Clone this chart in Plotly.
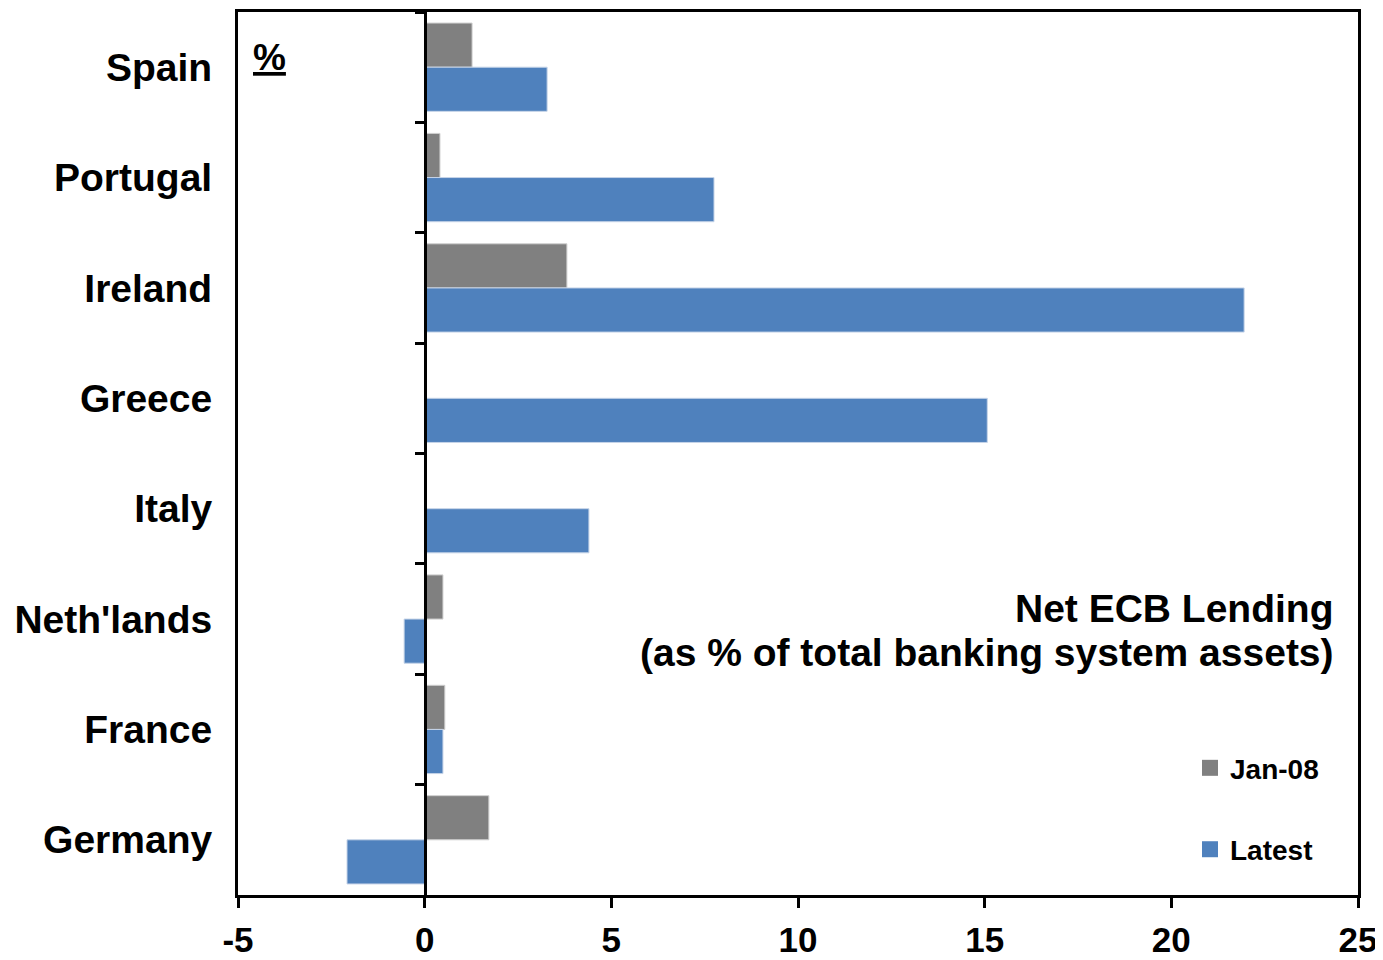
import plotly.graph_objects as go

countries = ["Spain", "Portugal", "Ireland", "Greece", "Italy", "Neth'lands", "France", "Germany"]
jan08 = [1.27, 0.41, 3.81, 0.0, 0.0, 0.49, 0.54, 1.72]
latest = [3.28, 7.75, 21.95, 15.07, 4.40, -0.55, 0.49, -2.08]
x_ticks = [-5, 0, 5, 10, 15, 20, 25]
series_names = ["Jan-08", "Latest"]

FONT = "Liberation Sans, Arial, sans-serif"
GRAY = "#808080"
BLUE = "#4F81BD"

fig = go.Figure()
fig.add_trace(go.Bar(y=countries, x=jan08, orientation="h", name=series_names[0],
                     marker=dict(color=GRAY, line=dict(color="#d0d0d0", width=1)),
                     showlegend=False))
fig.add_trace(go.Bar(y=countries, x=latest, orientation="h", name=series_names[1],
                     marker=dict(color=BLUE, line=dict(color="#c6d4e8", width=1)),
                     showlegend=False))
# invisible trace to carry the category ticks drawn on the zero line
fig.add_trace(go.Bar(y=countries, x=[0] * len(countries), orientation="h", yaxis="y2",
                     showlegend=False, hoverinfo="skip", marker=dict(color="rgba(0,0,0,0)")))
# legend entries with larger square swatches
for nm, col, grp in zip(series_names, [GRAY, BLUE], ["a", "b"]):
    fig.add_trace(go.Scatter(x=[None], y=[None], mode="markers", name=f"<b>{nm}</b>",
                             marker=dict(symbol="square", size=16, color=col),
                             legendgroup=grp, showlegend=True))

PLOT_H = 888
fig.update_layout(
    width=1375, height=952,
    margin=dict(l=230, r=25, t=1, b=952 - 1 - PLOT_H),
    paper_bgcolor="white", plot_bgcolor="white",
    barmode="group", bargap=0.2, bargroupgap=0,
    font=dict(family=FONT, color="black"),
    xaxis=dict(range=[-5, 25], tickvals=x_ticks, ticktext=[f"<b>{v}</b>" for v in x_ticks],
               tickfont=dict(size=35, family=FONT), showgrid=False, zeroline=False,
               showline=True, linecolor="black", linewidth=3, mirror=True,
               ticks="outside", ticklen=10, tickwidth=3, tickcolor="black",
               ticklabelstandoff=2),
    yaxis=dict(categoryorder="array", categoryarray=countries, autorange="reversed",
               tickvals=countries, ticktext=[f"<b>{c}</b>" for c in countries],
               tickfont=dict(size=39, family=FONT), showgrid=False, zeroline=False,
               showline=True, linecolor="black", linewidth=3, mirror=True,
               ticks="", ticklabelstandoff=15),
    yaxis2=dict(overlaying="y", anchor="free", position=1/6, side="left",
                categoryorder="array", categoryarray=countries, autorange="reversed",
                showticklabels=False, showgrid=False, zeroline=False,
                showline=True, linecolor="black", linewidth=3,
                ticks="outside", tickson="boundaries", ticklen=9, tickwidth=3, tickcolor="black"),
    legend=dict(x=0.85, xanchor="left", y=0.172, yanchor="top",
                font=dict(size=28, family=FONT, color="black"),
                tracegroupgap=42, bgcolor="rgba(0,0,0,0)", traceorder="grouped",
                itemsizing="trace"),
    showlegend=True,
)

fig.add_annotation(x=-4.15, y=0.949, xref="x", yref="paper", text="<b><u>%</u></b>",
                   showarrow=False, font=dict(size=37, family=FONT, color="black"),
                   xanchor="center", yanchor="middle")
fig.add_annotation(x=24.4, y=0.325, xref="x", yref="paper",
                   text="<b>Net ECB Lending</b>",
                   showarrow=False, align="right", xanchor="right", yanchor="middle",
                   font=dict(size=39, family=FONT, color="black"))
fig.add_annotation(x=24.4, y=0.275, xref="x", yref="paper",
                   text="<b>(as % of total banking system assets)</b>",
                   showarrow=False, align="right", xanchor="right", yanchor="middle",
                   font=dict(size=39, family=FONT, color="black"))

fig.write_html("out.html")
